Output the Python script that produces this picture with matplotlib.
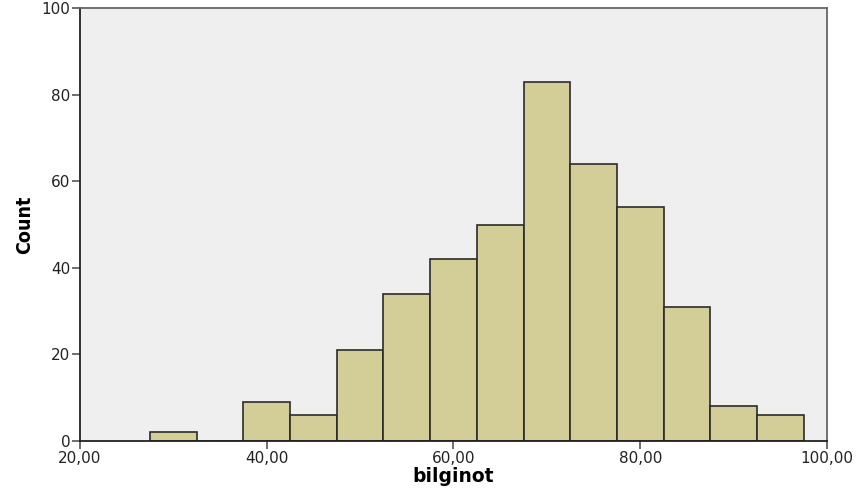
# Histogram of bilginot (SPSS style)

import numpy as np
import matplotlib
matplotlib.use('Agg')
import matplotlib.pyplot as plt

# bin centres (width 5) and counts
bin_centres = [30, 35, 40, 45, 50, 55, 60, 65, 70, 75, 80, 85, 90, 95]
counts = [2, 0, 9, 6, 21, 34, 42, 50, 83, 64, 54, 31, 8, 6]
bin_width = 5

x_ticks = [20, 40, 60, 80, 100]
x_tick_labels = ['20,00', '40,00', '60,00', '80,00', '100,00']
y_ticks = [0, 20, 40, 60, 80, 100]

fig = plt.figure(figsize=(8.61, 4.99), dpi=100)
ax = fig.add_axes([0.0929, 0.1162, 0.8676, 0.8678])
ax.set_facecolor('#efefef')

ax.bar(bin_centres, counts, width=bin_width, color='#d3ce97',
       edgecolor='#2b2b2b', linewidth=1.2, zorder=2)

ax.set_xlim(20, 100)
ax.set_ylim(0, 100)
ax.set_xticks(x_ticks)
ax.set_xticklabels(x_tick_labels)
ax.set_yticks(y_ticks)
ax.tick_params(axis='both', direction='out', length=6, width=1.2,
               color='#555555', labelsize=11, labelcolor='#222222', pad=1)

for side in ['left', 'bottom']:
    ax.spines[side].set_color('#222222')
    ax.spines[side].set_linewidth(1.3)
for side in ['top', 'right']:
    ax.spines[side].set_color('#666666')
    ax.spines[side].set_linewidth(1.3)

ax.set_xlabel('bilginot', fontsize=13.5, fontweight='bold', labelpad=1)
ax.set_ylabel('Count', fontsize=14, fontweight='bold',
              fontstretch='condensed', labelpad=5)

fig.savefig('out.png', dpi=100)
